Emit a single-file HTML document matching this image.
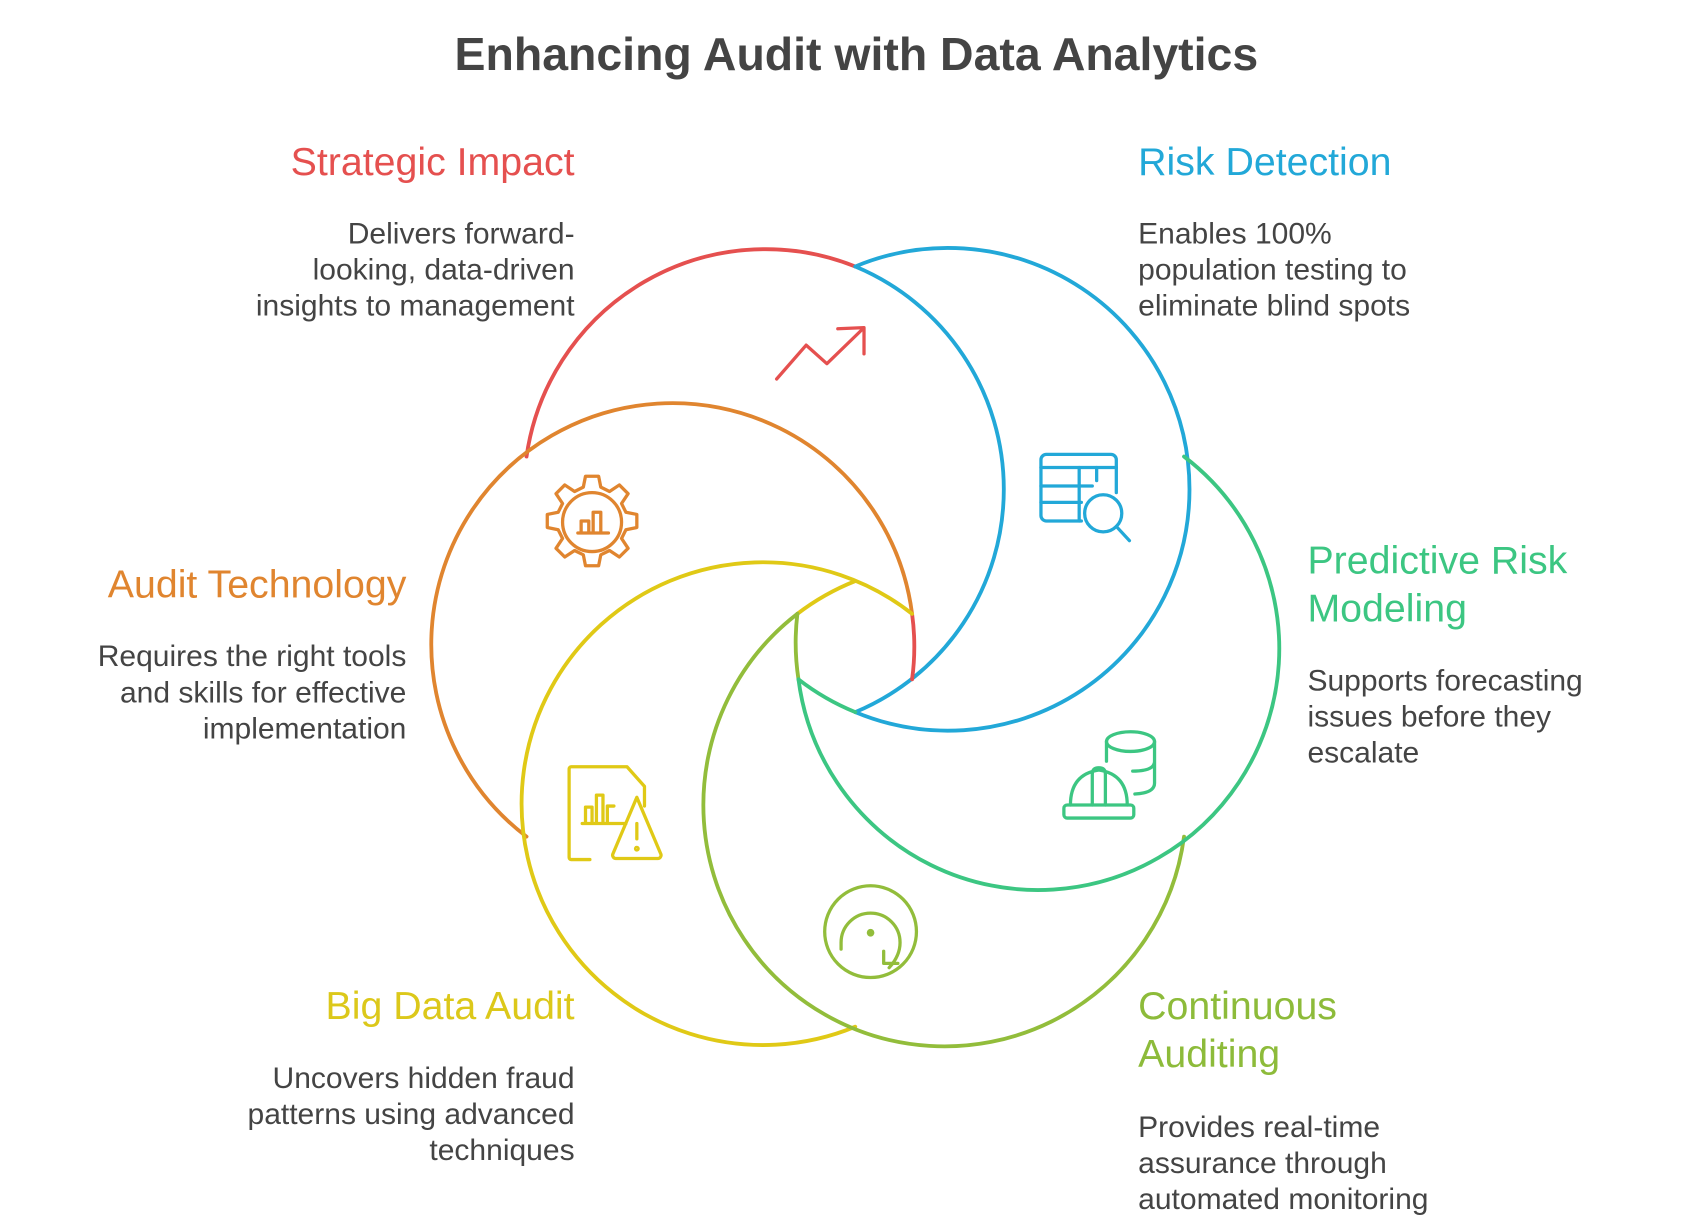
<!DOCTYPE html>
<html><head><meta charset="utf-8"><style>
html,body{margin:0;padding:0;background:#fff;}
svg{display:block;}
text{font-family:"Liberation Sans",sans-serif;}
.d{font-size:27.5px;fill:#444;}
.h{font-size:36px;}
</style></head><body>
<svg width="1704" height="1220" viewBox="0 0 1560 1117" xmlns="http://www.w3.org/2000/svg">
<text x="784" y="64" text-anchor="middle" style="font-size:42.5px;font-weight:bold;fill:#444">Enhancing Audit with Data Analytics</text>

<g fill="none" stroke-width="3.5" stroke-linecap="round">
<path d="M482 418 A221 221 0 0 1 783 244" stroke="#e5504f"/>
<path d="M783 244 A221 221 0 1 1 783 652" stroke="#22a8d8"/>
<path d="M783 244 A221 221 0 0 1 783 652" stroke="#22a8d8"/>
<path d="M482 766 A221 221 0 1 1 835 562" stroke="#e0852f"/>
<path d="M835 562 A221 221 0 0 1 835 622" stroke="#e5504f"/>
<path d="M783 940 A221 221 0 1 1 835 562" stroke="#e0c916"/>
<path d="M783 532 A221 221 0 0 0 730 562" stroke="#e0c916"/>
<path d="M730 562 A221 221 0 1 0 1084 766" stroke="#92bd3b"/>
<path d="M730 562 A221 221 0 0 0 731 622" stroke="#92bd3b"/>
<path d="M731 622 A221 221 0 1 0 1084 418" stroke="#3cc682"/>
<path d="M783 652 A221 221 0 0 1 731 622" stroke="#3cc682"/>
</g>

<g fill="none" stroke-width="3" stroke-linecap="round" stroke-linejoin="round">
<g stroke="#e5504f"><polyline points="711,347 738,316 757,333 790,301"/><polyline points="767,301 791,300 791,324"/></g>
<g stroke="#22a8d8">
<path d="M990 477 H958 a5 5 0 0 1 -5 -5 V421 a5 5 0 0 1 5 -5 H1017 a5 5 0 0 1 5 5 V451"/>
<line x1="953" y1="428" x2="1022" y2="428"/><line x1="953" y1="445" x2="1000" y2="445"/><line x1="953" y1="460" x2="990" y2="460"/>
<line x1="988" y1="428" x2="988" y2="477"/><line x1="1004" y1="428" x2="1004" y2="440"/>
<circle cx="1010" cy="470" r="17"/><line x1="1022" y1="482" x2="1034" y2="495"/>
</g>
<g stroke="#e0852f">
<circle cx="542" cy="478" r="27"/>
<path d="M536 436 h12 l2 10 l8 4 l9 -6 l8 8 l-6 9 l4 8 l10 2 v12 l-10 2 l-4 8 l6 9 l-8 8 l-9 -6 l-8 4 l-2 10 h-12 l-2 -10 l-8 -4 l-9 6 l-8 -8 l6 -9 l-4 -8 l-10 -2 v-12 l10 -2 l4 -8 l-6 -9 l8 -8 l9 6 l8 -4 z"/>
<path d="M529 488 h28 M532 487 v-10 h7 v10 M543 487 v-18 h7 v18"/>
</g>
<g stroke="#3cc682">
<ellipse cx="1035" cy="679" rx="22" ry="9"/>
<path d="M1013 679 v18 M1057 679 v38 q0 9 -18 10 M1057 697 q0 9 -20 9"/>
<path d="M980 737 q0 -28 26 -32 q26 4 26 32 M1000 737 v-28 q0 -6 6 -6 q6 0 6 6 v28"/>
<rect x="974" y="737" width="64" height="12" rx="3"/>
</g>
<g stroke="#e0c916">
<path d="M540 787 H523 a2 2 0 0 1 -2 -2 V704 a2 2 0 0 1 2 -2 H574 l16 18 v18"/>
<path d="M533 754 h40 M536 753 v-14 h6 v14 M546 753 v-25 h6 v25 M556 753 v-15 h6"/>
<path d="M583 730 l-22 52 a3 3 0 0 0 3 4 h38 a3 3 0 0 0 3 -4 z"/>
<line x1="583" y1="754" x2="583" y2="768"/><circle cx="583" cy="777" r="1.2"/>
</g>
<g stroke="#92bd3b">
<circle cx="797" cy="853" r="42"/>
<path d="M770 869 V863 a27 27 0 0 1 54 0 q0 12 -10 23"/>
<polyline points="809,871 809,882 822,882"/>
<circle cx="797" cy="854" r="2" fill="#92bd3b"/>
</g>
</g>

<text class="h" x="526" y="160" text-anchor="end" fill="#e5504f">Strategic Impact</text>
<text class="d" text-anchor="end"><tspan x="526" y="223">Delivers forward-</tspan><tspan x="526" y="256">looking, data-driven</tspan><tspan x="526" y="289">insights to management</tspan></text>

<text class="h" x="1042" y="160" fill="#22a8d8">Risk Detection</text>
<text class="d"><tspan x="1042" y="223">Enables 100%</tspan><tspan x="1042" y="256">population testing to</tspan><tspan x="1042" y="289">eliminate blind spots</tspan></text>

<text class="h" fill="#3cc682"><tspan x="1197" y="525">Predictive Risk</tspan><tspan x="1197" y="569">Modeling</tspan></text>
<text class="d"><tspan x="1197" y="632">Supports forecasting</tspan><tspan x="1197" y="665">issues before they</tspan><tspan x="1197" y="698">escalate</tspan></text>

<text class="h" x="372" y="547" text-anchor="end" fill="#e0852f">Audit Technology</text>
<text class="d" text-anchor="end"><tspan x="372" y="610">Requires the right tools</tspan><tspan x="372" y="643">and skills for effective</tspan><tspan x="372" y="676">implementation</tspan></text>

<text class="h" x="526" y="933" text-anchor="end" fill="#dcc81a">Big Data Audit</text>
<text class="d" text-anchor="end"><tspan x="526" y="996">Uncovers hidden fraud</tspan><tspan x="526" y="1029">patterns using advanced</tspan><tspan x="526" y="1062">techniques</tspan></text>

<text class="h" fill="#8dbb3a"><tspan x="1042" y="933">Continuous</tspan><tspan x="1042" y="977">Auditing</tspan></text>
<text class="d"><tspan x="1042" y="1041">Provides real-time</tspan><tspan x="1042" y="1074">assurance through</tspan><tspan x="1042" y="1107">automated monitoring</tspan></text>
</svg>
</body></html>
